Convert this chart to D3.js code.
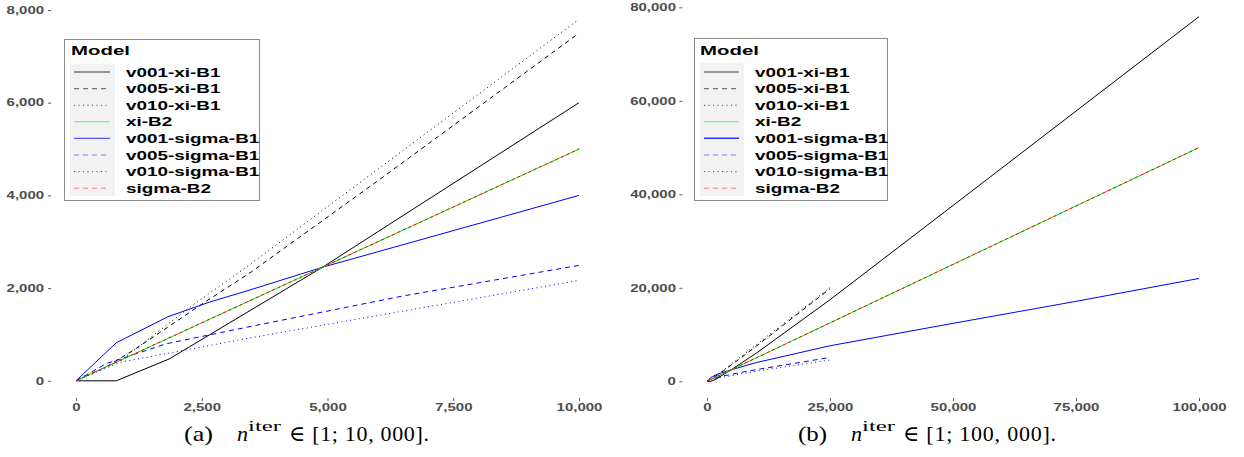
<!DOCTYPE html>
<html>
<head>
<meta charset="utf-8">
<script src="https://cdn.jsdelivr.net/npm/d3@7/dist/d3.min.js"></script>
<style>
  html, body { margin: 0; padding: 0; background: #ffffff; }
  svg { display: block; }
</style>
</head>
<body>
<script>
// ---------------- DATA ----------------
const modelNames = ["v001-xi-B1", "v005-xi-B1", "v010-xi-B1", "xi-B2",
                    "v001-sigma-B1", "v005-sigma-B1", "v010-sigma-B1", "sigma-B2"];

const v001XiIter = [0, 800, 1850, 4900, 10000, 25000, 50000, 100000];
const v001XiVal  = [0, 0, 470, 2450, 6000, 17450, 37600, 78000];

const v005XiIter = [0, 600, 1200, 2565, 3460, 6045, 10000, 25000];
const v005XiVal  = [0, 300, 700, 1700, 2330, 4350, 7500, 19800];

const v010XiIter = [0, 900, 2230, 3460, 10000, 25000];
const v010XiVal  = [0, 450, 1560, 2510, 7800, 20050];

const xiB2Iter = [0, 10000, 100000];
const xiB2Val  = [0, 5000, 50000];

const v001SigmaIter = [0, 800, 1830, 2660, 3460, 4900, 10000, 25000, 50000, 75000, 100000];
const v001SigmaVal  = [0, 820, 1384, 1700, 1960, 2450, 4000, 7600, 12400, 17100, 22000];

const v005SigmaIter = [0, 600, 1800, 3460, 6500, 10000, 25000];
const v005SigmaVal  = [0, 370, 800, 1170, 1830, 2490, 5100];

const v010SigmaIter = [0, 875, 3460, 6640, 10000, 25000];
const v010SigmaVal  = [0, 400, 925, 1530, 2165, 4550];

const sigmaB2Iter = [0, 10000, 100000];
const sigmaB2Val  = [0, 5000, 50000];

const xTicksA = [0, 2500, 5000, 7500, 10000];
const yTicksA = [0, 2000, 4000, 6000, 8000];
const xTicksB = [0, 25000, 50000, 75000, 100000];
const yTicksB = [0, 20000, 40000, 60000, 80000];

const legendTitle = "Model";
const captionTags = ["(a)", "(b)"];
const captionRanges = ["[1; 10, 000].", "[1; 100, 000]."];

// ---------------- BUILD ----------------
const W = 1244, H = 457;
const SX = 1.5;           // horizontal stretch of the original figure text
const svg = d3.select("body").append("svg")
  .attr("width", W).attr("height", H)
  .style("background", "#ffffff");

const seriesData = [
  { name: modelNames[0], iter: v001XiIter,    val: v001XiVal },
  { name: modelNames[1], iter: v005XiIter,    val: v005XiVal },
  { name: modelNames[2], iter: v010XiIter,    val: v010XiVal },
  { name: modelNames[3], iter: xiB2Iter,      val: xiB2Val },
  { name: modelNames[4], iter: v001SigmaIter, val: v001SigmaVal },
  { name: modelNames[5], iter: v005SigmaIter, val: v005SigmaVal },
  { name: modelNames[6], iter: v010SigmaIter, val: v010SigmaVal },
  { name: modelNames[7], iter: sigmaB2Iter,   val: sigmaB2Val }
];

const styles = {
  "v001-xi-B1":    { color: "#000000", dash: null,     key: "#3a3a3a" },
  "v005-xi-B1":    { color: "#000000", dash: "4.5,4",  key: "#555555", keyDash: "5,4" },
  "v010-xi-B1":    { color: "#000000", dash: "1,3.4",  key: "#444444", keyDash: "1,3.5" },
  "xi-B2":         { color: "#00ee00", dash: null,     key: "#66ee66" },
  "v001-sigma-B1": { color: "#0000ff", dash: null,     key: "#2f2fff" },
  "v005-sigma-B1": { color: "#0000ff", dash: "5,4",    key: "#8080ff", keyDash: "5,4" },
  "v010-sigma-B1": { color: "#0000ff", dash: "1,3.4",  key: "#3333ff", keyDash: "1,3.5" },
  "sigma-B2":      { color: "#ff0000", dash: "3,3",    key: "#ff7777", keyDash: "5,4" }
};
const drawOrder = ["v001-xi-B1", "v005-xi-B1", "v010-xi-B1", "v001-sigma-B1",
                   "v005-sigma-B1", "v010-sigma-B1", "xi-B2", "sigma-B2"];

const panels = [
  { xMax: 10000, xTicks: xTicksA, yTicks: yTicksA,
    xRange: [76, 579], yRange: [380.8, 10], yDomainMax: 8000,
    panelLeft: 51, panelBottom: 398, yPad: 1.6,
    legend: { x: 64, y: 39, w: 195, h: 161, keyX: 70, keyW: 45, keyY: 64, keyH: 132,
              lineX1: 74, lineX2: 110, labelX: 126, titleX: 71 },
    caption: { x: 184, tag: captionTags[0], range: captionRanges[0], rangeLen: 140 } },
  { xMax: 100000, xTicks: xTicksB, yTicks: yTicksB,
    xRange: [707, 1199], yRange: [381.3, 7.3], yDomainMax: 80000,
    panelLeft: 682.4, panelBottom: 398, yPad: 1.3,
    legend: { x: 694, y: 38, w: 193, h: 162, keyX: 700, keyW: 44, keyY: 63, keyH: 133,
              lineX1: 704, lineX2: 739, labelX: 755, titleX: 700 },
    caption: { x: 798, tag: captionTags[1], range: captionRanges[1], rangeLen: 153 } }
];

const entryY = [72, 88.7, 105.3, 121.8, 138.3, 155, 171.6, 188.2];
const fmt = d3.format(",");

panels.forEach(p => {
  const g = svg.append("g");
  const x = d3.scaleLinear().domain([0, p.xMax]).range(p.xRange);
  const y = d3.scaleLinear().domain([0, p.yDomainMax]).range(p.yRange);

  // Y axis
  const yAxis = g.append("g")
    .attr("transform", `translate(${p.panelLeft},0)`)
    .call(d3.axisLeft(y).tickValues(p.yTicks).tickFormat(fmt).tickSize(3).tickPadding(p.yPad));
  yAxis.select(".domain").remove();
  yAxis.selectAll(".tick line").attr("stroke", "#333333").attr("stroke-width", 0.8);
  yAxis.selectAll(".tick text")
    .attr("fill", "#4d4d4d")
    .attr("font-family", "'Liberation Sans', Arial, sans-serif")
    .attr("font-weight", "bold")
    .attr("font-size", 10)
    .attr("transform", `scale(${SX},1)`);

  // X axis
  const xAxis = g.append("g")
    .attr("transform", `translate(0,${p.panelBottom})`)
    .call(d3.axisBottom(x).tickValues(p.xTicks).tickFormat(fmt).tickSize(3).tickPadding(3));
  xAxis.select(".domain").remove();
  xAxis.selectAll(".tick line").attr("stroke", "#333333").attr("stroke-width", 0.8);
  xAxis.selectAll(".tick text")
    .attr("fill", "#4d4d4d")
    .attr("font-family", "'Liberation Sans', Arial, sans-serif")
    .attr("font-weight", "bold")
    .attr("font-size", 10)
    .attr("transform", `scale(${SX},1)`);

  // Lines
  const line = d3.line().x(d => x(d[0])).y(d => y(d[1]));
  drawOrder.forEach(name => {
    const s = seriesData.find(d => d.name === name);
    const pts = s.iter.map((it, i) => [it, s.val[i]]).filter(d => d[0] <= p.xMax);
    const st = styles[name];
    g.append("path")
      .datum(pts)
      .attr("d", line)
      .attr("fill", "none")
      .attr("stroke", st.color)
      .attr("stroke-width", 1)
      .attr("stroke-dasharray", st.dash)
      .attr("stroke-linejoin", "round");
  });

  // Legend
  const L = p.legend;
  const lg = g.append("g");
  lg.append("rect")
    .attr("x", L.x + 0.5).attr("y", L.y + 0.5).attr("width", L.w).attr("height", L.h)
    .attr("fill", "#ffffff").attr("stroke", "#8c8c8c").attr("stroke-width", 1);
  lg.append("rect")
    .attr("x", L.keyX).attr("y", L.keyY).attr("width", L.keyW).attr("height", L.keyH)
    .attr("fill", "#f2f2f2");
  lg.append("text")
    .attr("transform", `translate(${L.titleX},55) scale(${SX},1)`)
    .attr("font-family", "'Liberation Sans', Arial, sans-serif")
    .attr("font-weight", "bold").attr("font-size", 13.6).attr("fill", "#000000")
    .text(legendTitle);
  modelNames.forEach((name, i) => {
    const st = styles[name];
    const ey = entryY[i];
    lg.append("line")
      .attr("x1", L.lineX1).attr("x2", L.lineX2).attr("y1", ey).attr("y2", ey)
      .attr("stroke", st.key).attr("stroke-width", name === "v001-sigma-B1" && p.xMax > 10000 ? 1.6 : 1)
      .attr("stroke-dasharray", st.keyDash || null);
    lg.append("text")
      .attr("transform", `translate(${L.labelX},${ey + 4.5}) scale(${SX},1)`)
      .attr("font-family", "'Liberation Sans', Arial, sans-serif")
      .attr("font-weight", "bold").attr("font-size", 12.6).attr("fill", "#000000")
      .text(name);
  });

  // Caption
  const C = p.caption;
  const cap = g.append("g")
    .attr("font-family", "'Liberation Serif', 'DejaVu Serif', serif")
    .attr("fill", "#000000");
  cap.append("text").attr("x", C.x).attr("y", 441).attr("font-size", 22)
    .attr("textLength", 29).attr("lengthAdjust", "spacingAndGlyphs").text(C.tag);
  cap.append("text").attr("x", C.x + 53).attr("y", 441).attr("font-size", 22)
    .attr("font-style", "italic").text("n");
  cap.append("text").attr("x", C.x + 64).attr("y", 431).attr("font-size", 15.5)
    .attr("textLength", 33).attr("lengthAdjust", "spacingAndGlyphs").text("iter");
  cap.append("text").attr("x", C.x + 105).attr("y", 441).attr("font-size", 22)
    .attr("textLength", C.rangeLen).attr("lengthAdjust", "spacing")
    .text("\u2208 " + C.range);
});
</script>
</body>
</html>
